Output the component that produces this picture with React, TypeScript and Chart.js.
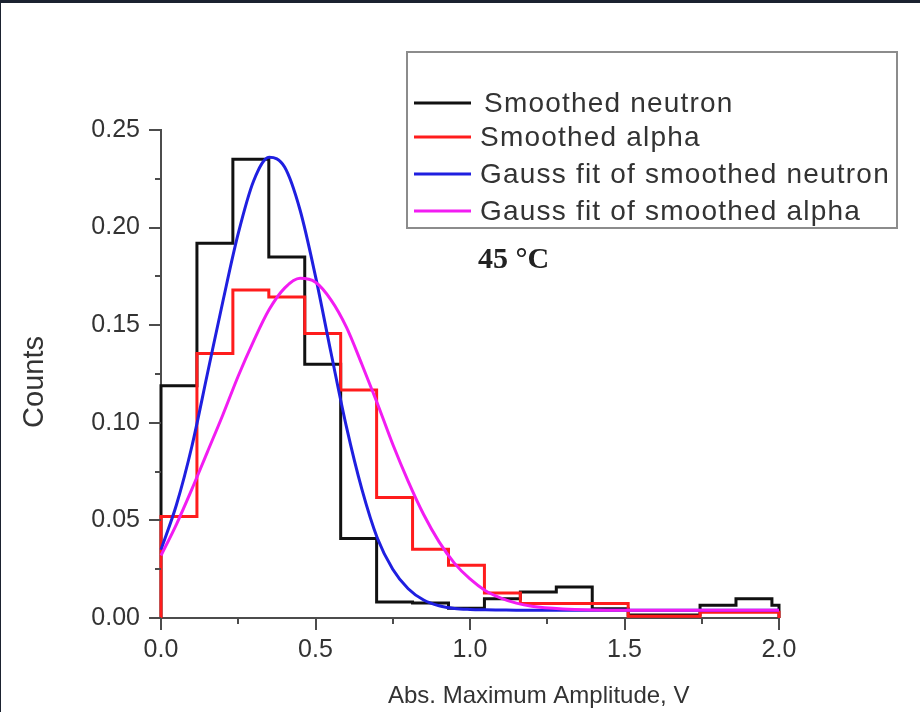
import React, { useEffect, useRef } from "react";
import { Chart, registerables } from "chart.js";

Chart.register(...registerables);

// ---- data ----
const binEdges = [
  0, 0.1163, 0.2326, 0.3489, 0.4652, 0.5815, 0.6978, 0.8141, 0.9304, 1.0467,
  1.163, 1.2793, 1.3956, 1.5119, 1.6282, 1.7445, 1.8608, 1.9771, 2.0,
];
const neutronCounts = [
  0.119, 0.192, 0.235, 0.185, 0.130, 0.0407, 0.0082, 0.0077, 0.005, 0.0099,
  0.0133, 0.0159, 0.0048, 0.0016, 0.0016, 0.0065, 0.0099, 0.0065,
];
const alphaCounts = [
  0.052, 0.1355, 0.168, 0.1645, 0.1458, 0.1168, 0.0617, 0.0352, 0.027, 0.0128,
  0.0074, 0.0074, 0.0074, 0.0009, 0.0009, 0.003, 0.003, 0.003,
];
const fitX = [
  0, 0.05, 0.1, 0.15, 0.2, 0.25, 0.3, 0.35, 0.4, 0.45, 0.5, 0.55, 0.6, 0.65,
  0.7, 0.75, 0.8, 0.85, 0.9, 0.95, 1.0, 1.05, 1.1, 1.15, 1.2, 1.3, 1.4, 1.5,
  1.6, 1.8, 2.0,
];
const neutronFit = [
  0.035, 0.058, 0.088, 0.125, 0.162, 0.197, 0.224, 0.236, 0.231, 0.209, 0.175,
  0.136, 0.098, 0.066, 0.041, 0.025, 0.015, 0.0092, 0.0063, 0.0049, 0.0044,
  0.0042, 0.0041, 0.004, 0.004, 0.004, 0.004, 0.004, 0.004, 0.004, 0.004,
];
const alphaFit = [
  0.032, 0.048, 0.066, 0.085, 0.104, 0.124, 0.142, 0.158, 0.169, 0.174, 0.172,
  0.163, 0.149, 0.13, 0.11, 0.089, 0.07, 0.053, 0.039, 0.028, 0.02, 0.014,
  0.0102, 0.0076, 0.006, 0.0046, 0.0041, 0.004, 0.004, 0.004, 0.004,
];
const yTickValues = [0, 0.05, 0.1, 0.15, 0.2, 0.25];
const yMinorTicks = [0.025, 0.075, 0.125, 0.175, 0.225];
const xTickValues = [0, 0.5, 1.0, 1.5, 2.0];
const xMinorTicks = [0.25, 0.75, 1.25, 1.75];
const seriesNames = [
  "Smoothed neutron",
  "Smoothed alpha",
  "Gauss fit of smoothed neutron",
  "Gauss fit of smoothed alpha",
];
const xTitle = "Abs. Maximum Amplitude, V";
const yTitle = "Counts";
const noteText = "45 \u00B0C";

// ---- styles ----
const SANS = "'Liberation Sans', Arial, Helvetica, sans-serif";
const SERIF = "'Liberation Serif', 'Times New Roman', serif";
const colors = ["#111111", "#ff1c1c", "#1f1fe0", "#f21cf2"];
const axisColor = "#4c4c4c";
const textColor = "#333333";

function stepPoints(vals: number[]) {
  const last = binEdges[binEdges.length - 1];
  const pts: { x: number; y: number }[] = [{ x: binEdges[0], y: 0 }];
  vals.forEach((v, i) => pts.push({ x: binEdges[i], y: v }));
  pts.push({ x: last, y: vals[vals.length - 1] });
  pts.push({ x: last, y: 0 });
  return pts;
}

function curvePoints(vals: number[]) {
  return fitX.map((x, i) => ({ x, y: vals[i] }));
}

const overlayPlugin = {
  id: "overlay",
  afterDraw(chart: any) {
    const { ctx, chartArea, scales } = chart;
    const xs = scales.x;
    const ys = scales.y;
    ctx.save();
    // tick marks (major + minor)
    ctx.strokeStyle = axisColor;
    ctx.lineWidth = 2;
    ctx.beginPath();
    yTickValues.forEach((v) => {
      const y = Math.round(ys.getPixelForValue(v));
      ctx.moveTo(chartArea.left, y);
      ctx.lineTo(chartArea.left - 12, y);
    });
    yMinorTicks.forEach((v) => {
      const y = Math.round(ys.getPixelForValue(v));
      ctx.moveTo(chartArea.left, y);
      ctx.lineTo(chartArea.left - 6, y);
    });
    xTickValues.forEach((v) => {
      const x = Math.round(xs.getPixelForValue(v));
      ctx.moveTo(x, chartArea.bottom);
      ctx.lineTo(x, chartArea.bottom + 12);
    });
    xMinorTicks.forEach((v) => {
      const x = Math.round(xs.getPixelForValue(v));
      ctx.moveTo(x, chartArea.bottom);
      ctx.lineTo(x, chartArea.bottom + 6);
    });
    ctx.stroke();

    // axis titles
    ctx.fillStyle = textColor;
    ctx.font = `24px ${SANS}`;
    ctx.textAlign = "left";
    ctx.textBaseline = "alphabetic";
    ctx.fillText(xTitle, 387, 700);

    ctx.save();
    ctx.translate(34, 379);
    ctx.rotate(-Math.PI / 2);
    ctx.font = `29px ${SANS}`;
    ctx.textAlign = "center";
    ctx.textBaseline = "middle";
    ctx.fillText(yTitle, 0, 0);
    ctx.restore();

    // legend box
    ctx.fillStyle = "#ffffff";
    ctx.fillRect(406, 49, 490, 176);
    ctx.strokeStyle = "#8c8c8c";
    ctx.lineWidth = 2;
    ctx.strokeRect(406, 49, 490, 176);
    const rows = [100, 134, 171, 208];
    const textX = [483, 479, 479, 479];
    ctx.font = `28px ${SANS}`;
    ctx.textAlign = "left";
    try {
      (ctx as any).letterSpacing = "1.2px";
    } catch (e) {}
    ctx.textBaseline = "middle";
    rows.forEach((ry, i) => {
      ctx.strokeStyle = colors[i];
      ctx.lineWidth = 3;
      ctx.beginPath();
      ctx.moveTo(413, ry);
      ctx.lineTo(470, ry);
      ctx.stroke();
      ctx.fillStyle = textColor;
      ctx.fillText(seriesNames[i], textX[i], ry + 1);
    });
    try {
      (ctx as any).letterSpacing = "0px";
    } catch (e) {}

    // temperature note
    ctx.fillStyle = "#222222";
    ctx.font = `bold 30px ${SERIF}`;
    ctx.textBaseline = "alphabetic";
    ctx.fillText(noteText, 477, 265);
    ctx.restore();
  },
};

export default function App() {
  const canvasRef = useRef<HTMLCanvasElement | null>(null);

  useEffect(() => {
    const canvas = canvasRef.current;
    if (!canvas) return;
    const chart = new Chart(canvas, {
      type: "line",
      data: {
        datasets: [
          {
            label: seriesNames[0],
            data: stepPoints(neutronCounts),
            borderColor: colors[0],
            borderWidth: 3,
            stepped: "before",
            pointRadius: 0,
            fill: false,
            clip: false,
            order: 3,
          },
          {
            label: seriesNames[1],
            data: stepPoints(alphaCounts),
            borderColor: colors[1],
            borderWidth: 3,
            stepped: "before",
            pointRadius: 0,
            fill: false,
            clip: false,
            order: 2,
          },
          {
            label: seriesNames[2],
            data: curvePoints(neutronFit),
            borderColor: colors[2],
            borderWidth: 3,
            cubicInterpolationMode: "monotone",
            pointRadius: 0,
            fill: false,
            clip: false,
            order: 1,
          },
          {
            label: seriesNames[3],
            data: curvePoints(alphaFit),
            borderColor: colors[3],
            borderWidth: 3,
            cubicInterpolationMode: "monotone",
            pointRadius: 0,
            fill: false,
            clip: false,
            order: 0,
          },
        ],
      },
      options: {
        responsive: false,
        animation: false,
        events: [],
        layout: { padding: { top: 127, right: 141, bottom: 0, left: 0 } },
        plugins: {
          legend: { display: false },
          tooltip: { enabled: false },
        },
        scales: {
          x: {
            type: "linear",
            min: 0,
            max: 2,
            grid: { display: false, drawTicks: false },
            border: { display: true, color: axisColor, width: 2 },
            afterBuildTicks: (scale: any) => {
              scale.ticks = xTickValues.map((v) => ({ value: v }));
            },
            afterFit: (scale: any) => {
              scale.height = 94;
            },
            ticks: {
              padding: 17,
              color: textColor,
              font: { family: SANS, size: 25 },
              maxRotation: 0,
              callback: (v: any) => Number(v).toFixed(1),
            },
          },
          y: {
            type: "linear",
            min: 0,
            max: 0.25,
            grid: { display: false, drawTicks: false },
            border: { display: true, color: axisColor, width: 2 },
            afterBuildTicks: (scale: any) => {
              scale.ticks = yTickValues.map((v) => ({ value: v }));
            },
            afterFit: (scale: any) => {
              scale.width = 160;
            },
            ticks: {
              padding: 21,
              color: textColor,
              font: { family: SANS, size: 25 },
              callback: (v: any) => Number(v).toFixed(2),
            },
          },
        },
      },
      plugins: [overlayPlugin],
    });
    return () => chart.destroy();
  }, []);

  return (
    <div
      style={{
        position: "fixed",
        left: 0,
        top: 0,
        width: 920,
        height: 712,
        background: "#1b2230",
        overflow: "hidden",
      }}
    >
      <div
        style={{
          position: "absolute",
          left: 1,
          top: 3,
          width: 919,
          height: 709,
          background: "#ffffff",
        }}
      >
        <canvas ref={canvasRef} width={919} height={709} style={{ display: "block" }} />
      </div>
    </div>
  );
}
